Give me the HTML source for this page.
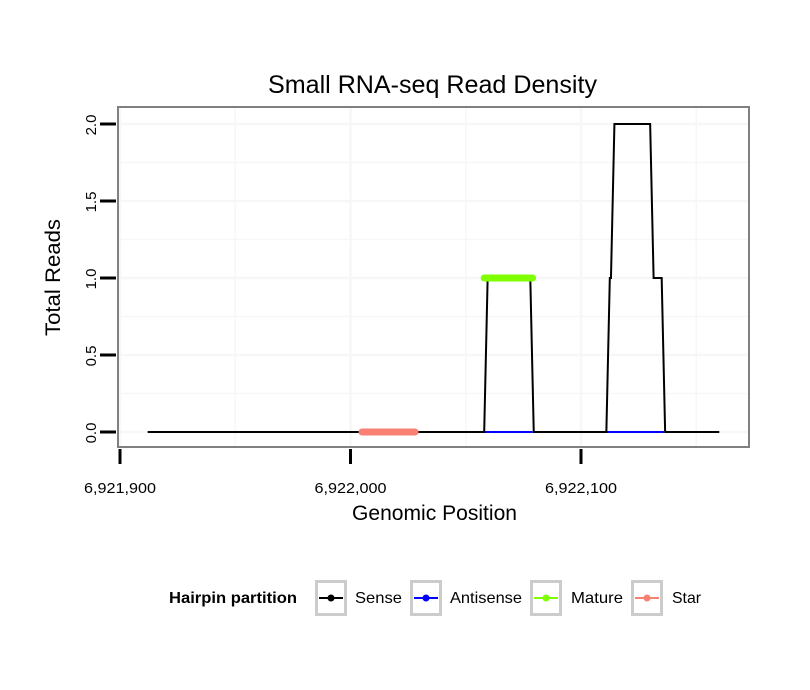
<!DOCTYPE html>
<html><head><meta charset="utf-8"><style>
body{margin:0;background:#fff;}
svg{display:block;font-family:"Liberation Sans",sans-serif;}
</style></head><body>
<svg id="chart" width="810" height="690">
<rect width="810" height="690" fill="#fff"/>
<text x="268" y="93" font-size="25" textLength="329" lengthAdjust="spacingAndGlyphs">Small RNA-seq Read Density</text>
<g id="grid"></g>
<g id="marks"></g>
<rect x="118" y="107" width="631" height="340" fill="none" stroke="#808080" stroke-width="2"/>
<g id="axes"></g>
<text x="352" y="520" font-size="21" textLength="165" lengthAdjust="spacingAndGlyphs">Genomic Position</text>
<text transform="translate(60,336) rotate(-90)" font-size="21" textLength="117" lengthAdjust="spacingAndGlyphs">Total Reads</text>
<g id="legend"></g>
</svg>
<script>
// data
const senseX=[6921912,6922058,6922059.5,6922078,6922079.5,6922111,6922112.5,6922113,6922114.5,6922130,6922131.5,6922135,6922136.5,6922160];
const senseY=[0,0,1,1,0,0,1,1,2,2,1,1,0,0];
const antisenseSegs=[[6922058,6922079],[6922111,6922136]];
const matureSeg=[6922058,6922079];
const matureVal=1;
const starSeg=[6922005,6922028];
const starVal=0;
const xTicks=[6921900,6922000,6922100];
const xTickLabels=["6,921,900","6,922,000","6,922,100"];
const yTicks=[0,0.5,1,1.5,2];
const yTickLabels=["0.0","0.5","1.0","1.5","2.0"];
const legendNames=["Sense","Antisense","Mature","Star"];
const legendColors=["#000000","#0000ff","#7fff00","#fa8072"];

const NS="http://www.w3.org/2000/svg";
const xs=v=>120+(v-6921900)*2.305;
const ys=v=>432-v*154;
function mk(tag,attrs,parent){const e=document.createElementNS(NS,tag);for(const k in attrs)e.setAttribute(k,attrs[k]);parent.appendChild(e);return e;}
const grid=document.getElementById('grid'),marks=document.getElementById('marks'),axes=document.getElementById('axes'),legend=document.getElementById('legend');
// grid
for(let v=6921900;v<=6922150;v+=50){const l=mk('line',{x1:xs(v),x2:xs(v),y1:108,y2:446,stroke:'#f7f7f7','stroke-width':v%100===0?2.5:1.5},grid);

}
for(let v=0;v<=2.0001;v+=0.25){const l=mk('line',{x1:119,x2:748,y1:ys(v),y2:ys(v),stroke:'#f7f7f7','stroke-width':Math.abs(v*2-Math.round(v*2))<1e-6?2.5:1.5},grid);

}
// marks
antisenseSegs.forEach(s=>{const l=mk('line',{x1:xs(s[0]),x2:xs(s[1]),y1:ys(0),y2:ys(0),stroke:'#0000ff','stroke-width':2},marks);

});
const p=mk('polyline',{points:senseX.map((x,i)=>xs(x)+','+ys(senseY[i])).join(' '),fill:'none',stroke:'#000','stroke-width':2},marks);


const m=mk('line',{x1:xs(matureSeg[0]),x2:xs(matureSeg[1]),y1:ys(matureVal),y2:ys(matureVal),stroke:'#7fff00','stroke-width':7,'stroke-linecap':'round'},marks);


const s=mk('line',{x1:xs(starSeg[0]),x2:xs(starSeg[1]),y1:ys(starVal),y2:ys(starVal),stroke:'#fa8072','stroke-width':7,'stroke-linecap':'round'},marks);


// axes
xTicks.forEach((v,i)=>{const t=mk('line',{x1:xs(v),x2:xs(v),y1:449,y2:464,stroke:'#000','stroke-width':3},axes);


const tx=mk('text',{x:xs(v)-36,y:493,'font-size':15,textLength:72,lengthAdjust:'spacingAndGlyphs'},axes);tx.textContent=xTickLabels[i];

});
yTicks.forEach((v,i)=>{const t=mk('line',{x1:100,x2:116,y1:ys(v),y2:ys(v),stroke:'#000','stroke-width':3},axes);


const tx=mk('text',{transform:`translate(96,${ys(v)+1}) rotate(-90)`,'font-size':15,'text-anchor':'middle'},axes);tx.textContent=yTickLabels[i];

});
// legend
const lt=mk('text',{x:169,y:603,'font-size':16,'font-weight':'bold',textLength:128,lengthAdjust:'spacingAndGlyphs'},legend);lt.textContent='Hairpin partition';


const keyX=[315,410,530,631];
const txtX=[355,450,571,672];
const txtW=[47,72,52,29];
legendNames.forEach((n,i)=>{const g=mk('g',{},legend);


const kx=keyX[i];
mk('rect',{x:kx+1.5,y:581.5,width:29,height:33,fill:'#fff',stroke:'#cccccc','stroke-width':3},g);
mk('line',{x1:kx+4,x2:kx+28,y1:598,y2:598,stroke:legendColors[i],'stroke-width':2},g);
mk('circle',{cx:kx+16,cy:598,r:3.5,fill:legendColors[i]},g);
const t=mk('text',{x:txtX[i],y:603,'font-size':16,textLength:txtW[i],lengthAdjust:'spacingAndGlyphs'},g);t.textContent=n;});
</script>
</body></html>
